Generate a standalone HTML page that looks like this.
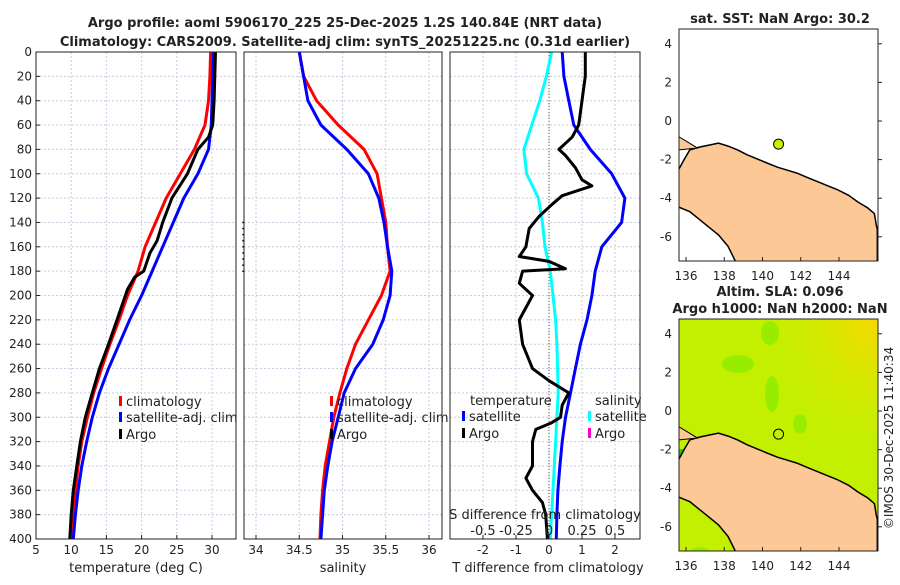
<!DOCTYPE html>
<html><head><meta charset="utf-8"><style>
body{margin:0;background:#fff;width:900px;height:580px;overflow:hidden}
svg text{font-family:"DejaVu Sans","Liberation Sans",sans-serif;fill:#222}
</style></head><body>
<svg id="s" width="900" height="580" xmlns="http://www.w3.org/2000/svg">
<text x="345" y="27" font-size="13" font-weight="bold" text-anchor="middle">Argo profile: aoml 5906170_225 25-Dec-2025 1.2S 140.84E (NRT data)</text>
<text x="345" y="46" font-size="13" font-weight="bold" text-anchor="middle">Climatology: CARS2009. Satellite-adj clim: synTS_20251225.nc (0.31d earlier)</text>
<text x="780" y="23" font-size="13" font-weight="bold" text-anchor="middle">sat. SST: NaN Argo: 30.2</text>
<text x="780" y="296" font-size="13" font-weight="bold" text-anchor="middle">Altim. SLA: 0.096</text>
<text x="780" y="313" font-size="13" font-weight="bold" text-anchor="middle">Argo h1000: NaN h2000: NaN</text>
<text transform="translate(893,438) rotate(-90)" font-size="12" text-anchor="middle">©IMOS 30-Dec-2025 11:40:34</text>
</svg>
<script>
// ---- data ----
const depthTicks=[0,20,40,60,80,100,120,140,160,180,200,220,240,260,280,300,320,340,360,380,400];
const tempTicks=[5,10,15,20,25,30];
const salTicks=[34,34.5,35,35.5,36];
const tdiffTicks=[-2,-1,0,1,2];
const sdiffTicks=[-0.5,-0.25,0,0.25,0.5];
const climDepth=[0,20,40,60,80,100,120,140,160,180,200,220,240,260,280,300,320,340,360,380,400];
const climTemp=[29.8,29.7,29.5,29,27.5,25.5,23.5,22,20.5,19.5,18,16.8,15.5,14.3,13.2,12.3,11.5,11,10.6,10.3,10.1];
const satTemp=[30.2,30.1,30,29.9,29.5,28,26,24.5,23,21.5,20,18.3,16.8,15.3,14,13,12.2,11.5,11,10.6,10.3];
const climSal=[34.5,34.55,34.7,34.95,35.25,35.4,35.45,35.5,35.52,35.55,35.45,35.3,35.15,35.05,34.97,34.9,34.85,34.8,34.77,34.75,34.74];
const satSal=[34.5,34.55,34.6,34.75,35.05,35.3,35.42,35.48,35.52,35.57,35.55,35.47,35.35,35.15,35.02,34.95,34.88,34.83,34.79,34.77,34.75];
const satTdiff=[0.4,0.45,0.6,0.75,1.25,1.9,2.3,2.2,1.6,1.4,1.3,1.15,0.95,0.8,0.65,0.5,0.4,0.33,0.27,0.24,0.22];
const satSdiff=[0.02,-0.02,-0.07,-0.13,-0.19,-0.17,-0.08,-0.05,-0.03,0.01,0.03,0.05,0.06,0.065,0.07,0.06,0.05,0.04,0.03,0.02,0.01];
const argoDepth=[0,20,40,60,70,80,100,120,140,155,165,180,185,195,220,240,260,280,300,320,340,360,380,400];
const argoTemp=[30.5,30.4,30.3,30.1,29.5,28,26.5,24.3,23,22.2,21.2,20.3,19,18,16.5,15.3,14,13,12,11.3,10.8,10.3,10,9.8];
const argoDiffDepth=[0,20,40,60,65,70,80,85,95,105,110,118,125,135,145,160,168,172,178,180,190,200,220,240,260,270,280,290,300,305,310,320,340,350,360,370,380,400];
const argoTdiff=[1.1,1.1,1.0,0.9,0.8,0.7,0.3,0.5,0.8,1.0,1.3,0.4,0.1,-0.3,-0.6,-0.7,-0.9,0,0.5,-0.8,-0.9,-0.5,-0.9,-0.8,-0.5,0,0.6,0.4,0.35,0.05,-0.4,-0.5,-0.5,-0.7,-0.5,-0.2,-0.1,-0.05];
const lonTicks=[136,138,140,142,144];
const latTicks=[4,2,0,-2,-4,-6];
const argoLon=140.84, argoLat=-1.2;
const coastLon=[135.6,135.9,136.2,136.7,137.2,137.7,138.2,138.7,139.2,139.8,140.3,140.8,141.3,141.8,142.4,142.9,143.4,143.9,144.5,145,145.5,145.85,145.95,146,146,138.6,138.2,137.7,137.2,136.7,136.2,135.6];
const coastLat=[-2.55,-2.0,-1.5,-1.35,-1.25,-1.15,-1.3,-1.5,-1.75,-2.0,-2.2,-2.4,-2.55,-2.7,-2.95,-3.15,-3.35,-3.55,-3.85,-4.2,-4.5,-4.8,-5.4,-5.6,-7.3,-7.3,-6.5,-5.9,-5.5,-5.1,-4.7,-4.45];
// ---- drawing ----
const S=document.getElementById('s'),NS='http://www.w3.org/2000/svg';
function el(t,a,p){const e=document.createElementNS(NS,t);for(const k in a)e.setAttribute(k,a[k]);(p||S).appendChild(e);return e;}
const Y0=52,Y1=539;
const yD=d=>Y0+(d/400)*(Y1-Y0);
function linX(d0,d1,p0,p1){return v=>p0+(v-d0)/(d1-d0)*(p1-p0);}
const xT=linX(5,30,36,212), xS=linX(34,36,256,429), xTd=linX(0,1,549,582), xSd=v=>xTd(v*4);
function panel(x0,x1,name){
  const g=el('g',{});
  depthTicks.forEach(d=>{const l=el('line',{x1:x0,x2:x1,y1:yD(d),y2:yD(d),stroke:'#c8cce0','stroke-dasharray':'2,2','stroke-width':1},g);});
  return g;
}
function vgrid(g,ticks,f){ticks.forEach(t=>{const l=el('line',{x1:f(t),x2:f(t),y1:Y0,y2:Y1,stroke:'#c8cce0','stroke-dasharray':'2,2'},g);});}
function frame(g,x0,x1){const r=el('rect',{x:x0,y:Y0,width:x1-x0,height:Y1-Y0,fill:'none',stroke:'#222','stroke-width':1},g);}
function line(g,xs,ys,fx,color,w,name){
  const pts=xs.map((v,i)=>fx(v).toFixed(1)+','+yD(ys[i]).toFixed(1)).join(' ');
  const p=el('polyline',{points:pts,fill:'none',stroke:color,'stroke-width':w,'stroke-linejoin':'round'},g);
  
}
function txt(g,x,y,s,o){const t=el('text',Object.assign({x:x,y:y,'font-size':12},o||{}),g);t.textContent=s;return t;}
function xticks(g,ticks,f,y,fmt){ticks.forEach(t=>{el('line',{x1:f(t),x2:f(t),y1:Y1,y2:Y1-4,stroke:'#222'},g);const e=txt(g,f(t),y,fmt?fmt(t):String(t),{'text-anchor':'middle'});});}
function legend(g,x,y,color,label){const r=el('rect',{x:x,y:y-10,width:3,height:10,fill:color},g);const t=txt(g,x+7,y,label,{'font-size':13});}
// panel 1
let g=panel(36,236,'temperature-panel');vgrid(g,tempTicks,xT);
line(g,climTemp,climDepth,xT,'#f00',3,'climatology-temp-line');
line(g,satTemp,climDepth,xT,'#00f',3,'satellite-temp-line');
line(g,argoTemp,argoDepth,xT,'#000',3,'argo-temp-line');
frame(g,36,236);
depthTicks.forEach(d=>{el('line',{x1:36,x2:40,y1:yD(d),y2:yD(d),stroke:'#222'},g);const t=txt(g,32,yD(d)+4,String(d),{'text-anchor':'end'});});
xticks(g,tempTicks,xT,554);
txt(g,136,572,'temperature (deg C)',{'text-anchor':'middle','font-size':13});
legend(g,119,406,'#f00','climatology');legend(g,119,422,'#00f','satellite-adj. clim');legend(g,119,439,'#000','Argo');
// panel 2
g=panel(244,442,'salinity-panel');vgrid(g,salTicks,xS);
line(g,climSal,climDepth,xS,'#f00',3,'climatology-salinity-line');
line(g,satSal,climDepth,xS,'#00f',3,'satellite-salinity-line');
frame(g,244,442);
for(let d=140;d<=180;d+=5){el('circle',{cx:243,cy:yD(d),r:0.8,fill:'#000'},g);}
xticks(g,salTicks,xS,554,t=>String(t));
txt(g,343,572,'salinity',{'text-anchor':'middle','font-size':13});
legend(g,330,406,'#f00','climatology');legend(g,330,422,'#00f','satellite-adj. clim');legend(g,330,439,'#000','Argo');
// panel 3
g=panel(450,640,'difference-panel');vgrid(g,tdiffTicks,xTd);
el('line',{x1:xTd(0),x2:xTd(0),y1:Y0,y2:Y1,stroke:'#554','stroke-dasharray':'1,2'},g);
line(g,satSdiff,climDepth,xSd,'#0ff',3,'satellite-salinity-diff-line');
line(g,satTdiff,climDepth,xTd,'#00f',3,'satellite-temp-diff-line');
line(g,argoTdiff,argoDiffDepth,xTd,'#000',3,'argo-temp-diff-line');
frame(g,450,640);
txt(g,545,519,'S difference from climatology',{'text-anchor':'middle','font-size':13});
sdiffTicks.forEach(t=>{txt(g,xSd(t),535,String(t),{'text-anchor':'middle','font-size':13});});
xticks(g,tdiffTicks,xTd,554);
txt(g,548,572,'T difference from climatology',{'text-anchor':'middle','font-size':13});
txt(g,470,405,'temperature',{'font-size':13});txt(g,595,405,'salinity',{'font-size':13});
legend(g,462,421,'#00f','satellite');legend(g,462,438,'#000','Argo');
legend(g,588,421,'#0ff','satellite');legend(g,588,438,'#f0c','Argo');
// maps
function map(y0,name,sla){
  const mx=linX(136,144,686,839), my=v=>y0+92-v*19.3;
  const g=el('g',{});
  const cp='clip'+y0;const d=el('defs',{},g);const c0=el('clipPath',{id:cp},d);el('rect',{x:679,y:y0,width:199,height:232},c0);
  const inner=el('g',{'clip-path':'url(#'+cp+')'},g);
  if(sla){
    const rg=el('radialGradient',{id:'yg',cx:'1',cy:'0',r:'0.7'},d);
    el('stop',{offset:'0','stop-color':'#f8d800'},rg);el('stop',{offset:'1','stop-color':'#c4f000','stop-opacity':'0'},rg);
    el('rect',{x:679,y:y0,width:199,height:232,fill:'#c2f000'},inner);
    el('rect',{x:679,y:y0,width:199,height:232,fill:'url(#yg)'},inner);
    [[770,y0+14,9,12],[738,y0+45,16,9],[772,y0+75,7,18],[800,y0+105,7,10],[700,y0+270-20,18,22]].forEach(e=>{el('ellipse',{cx:e[0],cy:e[1],rx:e[2],ry:e[3],fill:'#98ec00'},inner);});
    el('rect',{x:679,y:y0+130,width:12,height:20,fill:'#20d000'},inner);
  }
  const pts=coastLon.map((v,i)=>mx(v).toFixed(1)+','+my(coastLat[i]).toFixed(1)).join(' ');
  const c=el('polygon',{points:pts,fill:'#fcc896',stroke:'#000','stroke-width':1.5},inner);
  el('polygon',{points:[mx(135.6),my(-0.8),mx(136.1),my(-1.1),mx(136.6),my(-1.4),mx(135.6),my(-1.5)].join(','),fill:'#fcc896',stroke:'#000'},inner);
  el('rect',{x:679,y:y0,width:199,height:232,fill:'none',stroke:'#222'},g);
  lonTicks.forEach(t=>{el('line',{x1:mx(t),x2:mx(t),y1:y0+232,y2:y0+228,stroke:'#222'},g);txt(g,mx(t),y0+251,String(t),{'text-anchor':'middle'});});
  latTicks.forEach(t=>{el('line',{x1:878,x2:882,y1:my(t),y2:my(t),stroke:'#222'},g);txt(g,672,my(t)+4,String(t),{'text-anchor':'end'});});
  const a=el('circle',{cx:mx(argoLon),cy:my(argoLat),r:5,fill:sla?'none':'#ccf000',stroke:'#000','stroke-width':1},g);
  
}
map(29,'sst-map',false);
map(319,'sla-map',true);
</script>
</body></html>
